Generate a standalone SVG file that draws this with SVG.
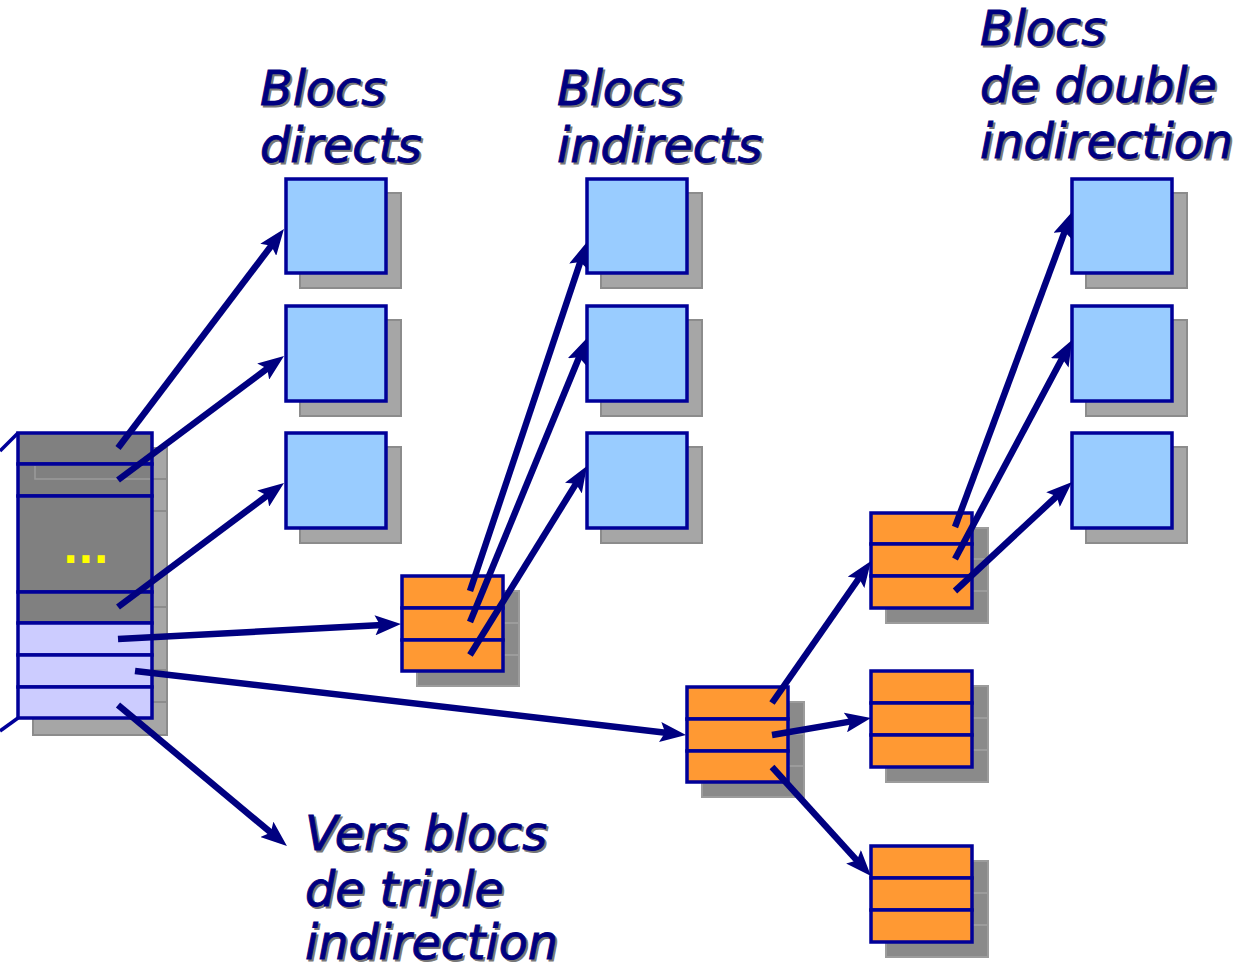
<svg xmlns="http://www.w3.org/2000/svg" width="1248" height="971" viewBox="0 0 1248 971">
<defs>
<style>
.lbl{font-family:"DejaVu Sans",sans-serif;font-style:oblique;font-size:47.6px;fill:#000080;stroke:#000080;stroke-width:0.9}
.lsh{font-family:"DejaVu Sans",sans-serif;font-style:oblique;font-size:47.6px;fill:#777777;stroke:#777777;stroke-width:0.9}
.blue{fill:#99CCFF;stroke:#000099;stroke-width:3.5}
.org{fill:#FF9933;stroke:#000099;stroke-width:3.5}
.shb{fill:#A6A6A6;stroke:#8c8c8c;stroke-width:2}
.sho{fill:#8A8A8A;stroke:#9c9c9c;stroke-width:2}
.shl{stroke:#9c9c9c;stroke-width:2}
.gray{fill:#808080;stroke:#000099;stroke-width:3.5}
.lav{fill:#CCCCFF;stroke:#000099;stroke-width:3.5}
.arr{stroke:#000080;stroke-width:6.5;fill:none;marker-end:url(#ah)}
</style>
<marker id="ah" markerUnits="userSpaceOnUse" markerWidth="26" markerHeight="20" refX="12" refY="10" orient="auto">
<path d="M0,0 L26,10 L0,20 L5,10 z" fill="#000080"/>
</marker>
</defs>
<rect width="1248" height="971" fill="#ffffff"/>

<g id="labels">
<g transform="translate(2,2)">
<text class="lsh" x="260" y="105">Blocs</text>
<text class="lsh" x="260" y="162">directs</text>
<text class="lsh" x="557" y="105">Blocs</text>
<text class="lsh" x="557" y="162">indirects</text>
<text class="lsh" x="980" y="45">Blocs</text>
<text class="lsh" x="980" y="102">de double</text>
<text class="lsh" x="980" y="158">indirection</text>
<text class="lsh" x="305" y="850">Vers blocs</text>
<text class="lsh" x="305" y="906">de triple</text>
<text class="lsh" x="305" y="959">indirection</text>
</g>
<text class="lbl" x="260" y="105">Blocs</text>
<text class="lbl" x="260" y="162">directs</text>
<text class="lbl" x="557" y="105">Blocs</text>
<text class="lbl" x="557" y="162">indirects</text>
<text class="lbl" x="980" y="45">Blocs</text>
<text class="lbl" x="980" y="102">de double</text>
<text class="lbl" x="980" y="158">indirection</text>
<text class="lbl" x="305" y="850">Vers blocs</text>
<text class="lbl" x="305" y="906">de triple</text>
<text class="lbl" x="305" y="959">indirection</text>
</g>

<g id="inode">
<rect class="shb" x="33" y="448" width="134" height="287"/>
<g stroke="#8c8c8c" stroke-width="2">
<line x1="33" y1="479" x2="167" y2="479"/>
<line x1="33" y1="511" x2="167" y2="511"/>
<line x1="33" y1="607" x2="167" y2="607"/>
<line x1="33" y1="638" x2="167" y2="638"/>
<line x1="33" y1="670" x2="167" y2="670"/>
<line x1="33" y1="702" x2="167" y2="702"/>
</g>
<rect class="gray" x="18" y="433" width="134" height="31"/>
<rect class="gray" x="18" y="464" width="134" height="32"/>
<rect class="gray" x="18" y="496" width="134" height="96"/>
<rect class="gray" x="18" y="592" width="134" height="31"/>
<rect class="lav" x="18" y="623" width="134" height="32"/>
<rect class="lav" x="18" y="655" width="134" height="32"/>
<rect class="lav" x="18" y="687" width="134" height="31"/>
<path d="M35,466 V479 H150" fill="none" stroke="#9a9a9a" stroke-width="1.5"/>
<text x="63" y="563" font-family="DejaVu Sans" font-weight="bold" font-size="40" fill="#FFFF00">...</text>
<line x1="18" y1="433" x2="0" y2="451" stroke="#000099" stroke-width="3.5"/>
<line x1="18" y1="718" x2="0" y2="731" stroke="#000099" stroke-width="3.5"/>
</g>

<g id="direct-blocks">
<rect class="shb" x="300" y="193" width="101" height="95"/>
<rect class="blue" x="286" y="179" width="100" height="94"/>
<rect class="shb" x="300" y="320" width="101" height="96"/>
<rect class="blue" x="286" y="306" width="100" height="95"/>
<rect class="shb" x="300" y="447" width="101" height="96"/>
<rect class="blue" x="286" y="433" width="100" height="95"/>
</g>

<g id="indirect-blocks">
<rect class="shb" x="601" y="193" width="101" height="95"/>
<rect class="blue" x="587" y="179" width="100" height="94"/>
<rect class="shb" x="601" y="320" width="101" height="96"/>
<rect class="blue" x="587" y="306" width="100" height="95"/>
<rect class="shb" x="601" y="447" width="101" height="96"/>
<rect class="blue" x="587" y="433" width="100" height="95"/>
</g>

<g id="double-blocks">
<rect class="shb" x="1086" y="193" width="101" height="95"/>
<rect class="blue" x="1072" y="179" width="100" height="94"/>
<rect class="shb" x="1086" y="320" width="101" height="96"/>
<rect class="blue" x="1072" y="306" width="100" height="95"/>
<rect class="shb" x="1086" y="447" width="101" height="96"/>
<rect class="blue" x="1072" y="433" width="100" height="95"/>
</g>

<g id="indirect-table">
<rect class="sho" x="417" y="591" width="102" height="95"/>
<line class="shl" x1="417" y1="623" x2="519" y2="623"/>
<line class="shl" x1="417" y1="655" x2="519" y2="655"/>
<rect class="org" x="402" y="576" width="101" height="32"/>
<rect class="org" x="402" y="608" width="101" height="32"/>
<rect class="org" x="402" y="640" width="101" height="31"/>
</g>

<g id="double-table">
<rect class="sho" x="702" y="702" width="102" height="95"/>
<line class="shl" x1="702" y1="734" x2="804" y2="734"/>
<line class="shl" x1="702" y1="766" x2="804" y2="766"/>
<rect class="org" x="687" y="687" width="101" height="32"/>
<rect class="org" x="687" y="719" width="101" height="32"/>
<rect class="org" x="687" y="751" width="101" height="31"/>
</g>

<g id="table-a">
<rect class="sho" x="886" y="528" width="102" height="95"/>
<line class="shl" x1="886" y1="559" x2="988" y2="559"/>
<line class="shl" x1="886" y1="591" x2="988" y2="591"/>
<rect class="org" x="871" y="513" width="101" height="31"/>
<rect class="org" x="871" y="544" width="101" height="32"/>
<rect class="org" x="871" y="576" width="101" height="32"/>
</g>
<g id="table-b">
<rect class="sho" x="886" y="686" width="102" height="96"/>
<line class="shl" x1="886" y1="718" x2="988" y2="718"/>
<line class="shl" x1="886" y1="750" x2="988" y2="750"/>
<rect class="org" x="871" y="671" width="101" height="32"/>
<rect class="org" x="871" y="703" width="101" height="32"/>
<rect class="org" x="871" y="735" width="101" height="32"/>
</g>
<g id="table-c">
<rect class="sho" x="886" y="861" width="102" height="96"/>
<line class="shl" x1="886" y1="893" x2="988" y2="893"/>
<line class="shl" x1="886" y1="925" x2="988" y2="925"/>
<rect class="org" x="871" y="846" width="101" height="32"/>
<rect class="org" x="871" y="878" width="101" height="32"/>
<rect class="org" x="871" y="910" width="101" height="32"/>
</g>

<g id="connectors">
<line class="arr" x1="118" y1="448" x2="275.5" y2="240.2"/>
<line class="arr" x1="118" y1="480" x2="272.8" y2="364.4"/>
<line class="arr" x1="118" y1="607" x2="272.8" y2="491.4"/>
<line class="arr" x1="118" y1="639" x2="387" y2="624.7"/>
<line class="arr" x1="135" y1="671" x2="672.1" y2="733.4"/>
<line class="arr" x1="118" y1="705" x2="276.2" y2="837"/>
<line class="arr" x1="470" y1="591" x2="582.5" y2="255.3"/>
<line class="arr" x1="470" y1="622" x2="581.7" y2="350.9"/>
<line class="arr" x1="470" y1="655" x2="579.6" y2="477.9"/>
<line class="arr" x1="772" y1="703" x2="863" y2="572.5"/>
<line class="arr" x1="772" y1="735" x2="857.2" y2="720.4"/>
<line class="arr" x1="772" y1="767" x2="861.6" y2="865.6"/>
<line class="arr" x1="955" y1="527" x2="1067.1" y2="225.1"/>
<line class="arr" x1="955" y1="559" x2="1065.4" y2="352.3"/>
<line class="arr" x1="955" y1="591" x2="1061.8" y2="491.5"/>
</g>
</svg>
